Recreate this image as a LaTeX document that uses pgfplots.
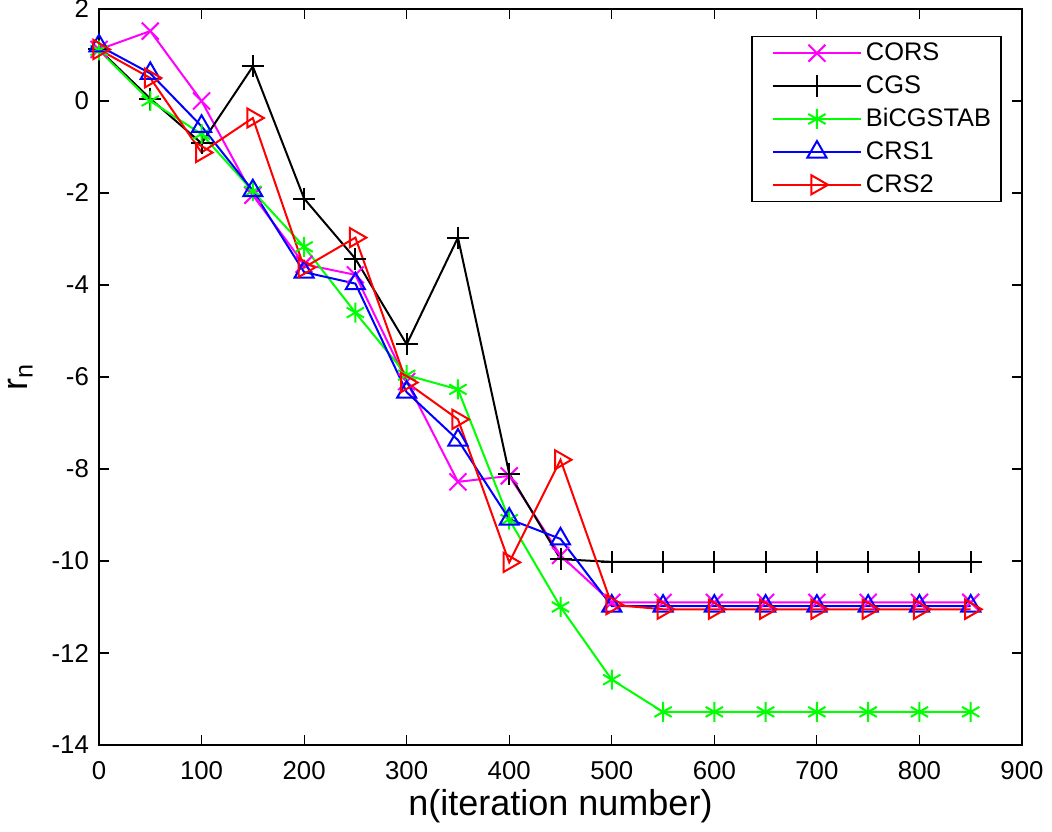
\documentclass[border=0pt]{standalone}
\usepackage{pgfplots}
\pgfplotsset{compat=1.18}
\usepackage{fontspec}
\setmainfont{Liberation Sans}
\definecolor{mag}{RGB}{255,0,255}
\definecolor{grn}{RGB}{0,255,0}
\begin{document}
\begin{tikzpicture}
\begin{axis}[
  name=ax,
  scale only axis,
  width=461.5pt, height=368pt,
  xmin=0, xmax=900, ymin=-14, ymax=2,
  xtick={0,100,...,900}, ytick={-14,-12,...,2},
  tick align=inside,
  major tick length=5pt,
  axis line style={line width=0.6pt},
  tick style={line width=0.6pt, black},
  /pgf/number format/assume math mode=true,
  ticklabel style={font=\fontsize{12.9}{14}\selectfont},
  xticklabel style={yshift=-4.5pt},
  yticklabel style={xshift=-1.5pt},
  label style={font=\fontsize{18}{20}\selectfont},
  xlabel={n(iteration number)},
  ylabel={r\textsubscript{n}},
  xlabel style={yshift=2pt},
  ylabel style={inner sep=1pt, text height=0.55em, yshift=5pt},
  legend style={at={(0.978,0.963)}, anchor=north east, draw=black, line width=0.6pt,
    font=\fontsize{12.7}{14}\selectfont, row sep=2pt, inner xsep=3pt, inner ysep=1pt},
  legend cell align=left,
  legend image code/.code={
    \path (0pt,0pt);
    \draw[mark repeat=2,mark phase=2] plot coordinates {(7pt,0pt) (29pt,0pt) (51pt,0pt)};
  },
]
\addplot[color=mag, line width=1pt, mark=x, mark size=6pt] coordinates {
(0,1.12) (50,1.52) (100,0.0) (150,-2.05) (200,-3.55) (250,-3.78) (300,-6.1) (350,-8.28) (400,-8.15) (450,-9.88) (500,-10.9) (550,-10.9) (600,-10.9) (650,-10.9) (700,-10.9) (750,-10.9) (800,-10.9) (850,-10.9)};
\addlegendentry{CORS}
\addplot[color=black, line width=1pt, mark=+, mark size=5.5pt] coordinates {
(0,1.12) (50,0.05) (100,-0.92) (150,0.75) (200,-2.12) (250,-3.43) (300,-5.29) (350,-2.97) (400,-8.1) (450,-9.96) (500,-10.02) (550,-10.02) (600,-10.02) (650,-10.02) (700,-10.02) (750,-10.02) (800,-10.02) (850,-10.02)};
\addlegendentry{CGS}
\addplot[color=grn, line width=1pt, mark=asterisk, mark size=5pt] coordinates {
(0,1.1) (50,0.0) (100,-0.72) (150,-1.96) (200,-3.17) (250,-4.6) (300,-5.96) (350,-6.27) (400,-9.1) (450,-11.0) (500,-12.58) (550,-13.28) (600,-13.28) (650,-13.28) (700,-13.28) (750,-13.28) (800,-13.28) (850,-13.28)};
\addlegendentry{BiCGSTAB}
\addplot[color=blue, line width=1pt, mark=triangle, mark size=5.5pt] coordinates {
(0,1.2) (50,0.6) (100,-0.55) (150,-1.95) (200,-3.72) (250,-3.97) (300,-6.33) (350,-7.37) (400,-9.09) (450,-9.52) (500,-10.98) (550,-10.98) (600,-10.98) (650,-10.98) (700,-10.98) (750,-10.98) (800,-10.98) (850,-10.98)};
\addlegendentry{CRS1}
\addplot[color=red, line width=1pt, mark=triangle, mark size=5.5pt, mark options={rotate=-90}] coordinates {
(0,1.12) (50,0.5) (100,-1.12) (150,-0.37) (200,-3.62) (250,-2.97) (300,-6.12) (350,-6.92) (400,-10.03) (450,-7.8) (500,-10.95) (550,-11.05) (600,-11.05) (650,-11.05) (700,-11.05) (750,-11.05) (800,-11.05) (850,-11.05)};
\addlegendentry{CRS2}
\end{axis}
\pgfresetboundingbox
\path ([shift={(-49.5pt,-43.5pt)}]ax.south west) rectangle ([shift={(15pt,4.5pt)}]ax.north east);
\end{tikzpicture}
\end{document}
